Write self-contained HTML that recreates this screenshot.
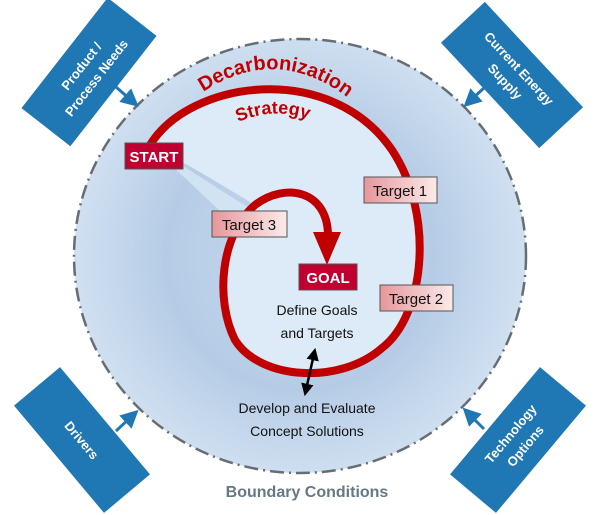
<!DOCTYPE html>
<html><head><meta charset="utf-8"><style>
html,body{margin:0;padding:0;background:#fff;width:600px;height:515px;overflow:hidden}
svg{display:block}
text{font-family:"Liberation Sans","DejaVu Sans",sans-serif}
</style></head><body>
<svg width="600" height="515" viewBox="0 0 600 515" xmlns="http://www.w3.org/2000/svg">
<defs>
<radialGradient id="cg" cx="300" cy="256" r="225" gradientUnits="userSpaceOnUse">
<stop offset="0" stop-color="#c6d8ee"/><stop offset="0.6" stop-color="#b6cce6"/><stop offset="1" stop-color="#d0e0f1"/>
</radialGradient>
<linearGradient id="pg" x1="0" y1="0" x2="1" y2="0">
<stop offset="0" stop-color="#e6979c"/><stop offset="1" stop-color="#fbeaea"/>
</linearGradient>
<marker id="ah" markerWidth="6" markerHeight="6" refX="3" refY="3" orient="auto"><path d="M0,0 L6,3 L0,6 z" fill="#1f77b4"/></marker>
<marker id="bh" markerWidth="5" markerHeight="5" refX="2.5" refY="2.5" orient="auto-start-reverse"><path d="M0,0 L5,2.5 L0,5 z" fill="#000"/></marker>
<path id="arc1" d="M203,92 Q285,38 365,112"/>
<path id="arc2" d="M238,122 Q290,100 335,135"/>
</defs>
<ellipse cx="300" cy="256" rx="226" ry="217" fill="url(#cg)" stroke="#666e75" stroke-width="2.5" stroke-dasharray="14,5,2,5"/>
<path d="M150,145 C190,80 330,60 392,150 C435,215 425,315 382,348 C340,385 260,380 235,340 C215,300 220,235 255,205 C230,190 190,165 150,145 Z" fill="#dcebf7"/>
<path d="M150,145 L260,215 L240,230 Z" fill="#dcebf7" opacity="0.7"/>
<path d="M150,145 C190,80 330,60 392,150 C435,215 425,315 382,348 C340,385 260,380 235,340 C215,300 220,235 255,205 C285,182 328,190 328,236" fill="none" stroke="#c00000" stroke-width="8"/>
<polygon points="313,232 341,232 327,265" fill="#c00000"/>
<text font-size="20" font-weight="bold" fill="#c00000"><textPath href="#arc1">Decarbonization</textPath></text>
<text font-size="18" font-weight="bold" fill="#c00000"><textPath href="#arc2">Strategy</textPath></text>
<rect x="125" y="143" width="58" height="26" fill="#c00030" stroke="#555" stroke-width="1"/>
<text x="154" y="162" font-size="15" font-weight="bold" fill="#fff" text-anchor="middle">START</text>
<rect x="299" y="264" width="58" height="26" fill="#c00030" stroke="#555" stroke-width="1"/>
<text x="328" y="283" font-size="15" font-weight="bold" fill="#fff" text-anchor="middle">GOAL</text>
<rect x="364" y="177" width="73" height="26" fill="url(#pg)" stroke="#555" stroke-width="1"/>
<text x="400" y="196" font-size="15" fill="#111" text-anchor="middle">Target 1</text>
<rect x="380" y="285" width="73" height="26" fill="url(#pg)" stroke="#555" stroke-width="1"/>
<text x="416" y="304" font-size="15" fill="#111" text-anchor="middle">Target 2</text>
<rect x="212" y="211" width="75" height="26" fill="url(#pg)" stroke="#555" stroke-width="1"/>
<text x="249" y="230" font-size="15" fill="#111" text-anchor="middle">Target 3</text>
<text x="317" y="315" font-size="14" fill="#111" text-anchor="middle">Define Goals</text>
<text x="317" y="338" font-size="14" fill="#111" text-anchor="middle">and Targets</text>
<line x1="314" y1="354" x2="306" y2="390" stroke="#000" stroke-width="2.5" marker-start="url(#bh)" marker-end="url(#bh)"/>
<text x="307" y="413" font-size="14" fill="#111" text-anchor="middle">Develop and Evaluate</text>
<text x="307" y="436" font-size="14" fill="#111" text-anchor="middle">Concept Solutions</text>
<text x="307" y="497" font-size="16" font-weight="bold" fill="#677885" text-anchor="middle">Boundary Conditions</text>
<g transform="translate(89,72) rotate(-52)">
<rect x="-70" y="-31" width="140" height="62" fill="#1f77b4"/>
<text y="-5" font-size="13" font-weight="bold" fill="#fff" text-anchor="middle">Product /</text>
<text y="14" font-size="13" font-weight="bold" fill="#fff" text-anchor="middle">Process Needs</text>
</g>
<g transform="translate(512,75) rotate(47)">
<rect x="-72" y="-30" width="144" height="60" fill="#1f77b4"/>
<text y="-5" font-size="13" font-weight="bold" fill="#fff" text-anchor="middle">Current Energy</text>
<text y="14" font-size="13" font-weight="bold" fill="#fff" text-anchor="middle">Supply</text>
</g>
<g transform="translate(82,440) rotate(50)">
<rect x="-70" y="-30" width="140" height="60" fill="#1f77b4"/>
<text y="5" font-size="13" font-weight="bold" fill="#fff" text-anchor="middle">Drivers</text>
</g>
<g transform="translate(518,440) rotate(-50)">
<rect x="-70" y="-30" width="140" height="60" fill="#1f77b4"/>
<text y="-5" font-size="13" font-weight="bold" fill="#fff" text-anchor="middle">Technology</text>
<text y="14" font-size="13" font-weight="bold" fill="#fff" text-anchor="middle">Options</text>
</g>
<g stroke="#1f77b4" stroke-width="3" fill="none">
<line x1="116" y1="87" x2="132" y2="101" marker-end="url(#ah)"/>
<line x1="486" y1="86" x2="470" y2="101" marker-end="url(#ah)"/>
<line x1="116" y1="431" x2="132" y2="416" marker-end="url(#ah)"/>
<line x1="484" y1="429" x2="469" y2="414" marker-end="url(#ah)"/>
</g>
</svg>
</body></html>
